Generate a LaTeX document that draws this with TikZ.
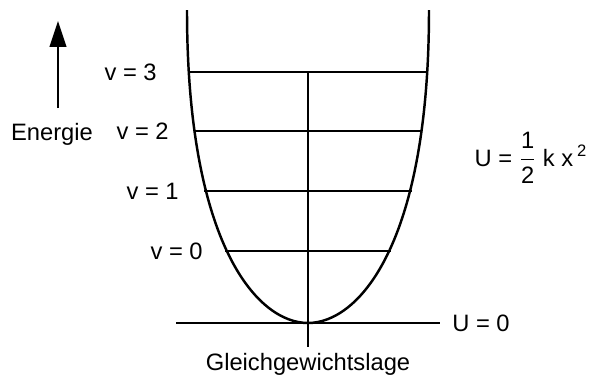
\documentclass[tikz,border=0pt]{standalone}
\usepackage{fontspec}
\setmainfont{Liberation Sans}
\usetikzlibrary{positioning, arrows.meta}
\definecolor{pInk}{HTML}{000000}
\tikzset{
  potline/.style={line width=1.4pt, pInk, line join=round},
  lvlline/.style={line width=1.4pt, pInk},
  lbl/.style={font=\fontsize{13.5}{16}\selectfont, inner sep=0pt, text=pInk},
}

\begin{document}
\begin{tikzpicture}[x=0.02cm, y=-0.02cm, >=Stealth]
      \useasboundingbox (0,0) rectangle (596,376);
      % potential curve
      \coordinate (pmin) at (308,323);
      \draw[potline] (187,10) .. controls (187,246) and (258,323) .. (pmin)
        .. controls (358,323) and (429,246) .. (429,10);
      % vibrational levels
      \foreach \y/\w/\n/\g in {72/120/3/0.62, 131/114/2/0.50, 191/104/1/0.50, 251/83/0/0.44} {
        \coordinate (l\n) at (308-\w,\y);
        \coordinate (r\n) at (308+\w,\y);
        \draw[lvlline] (l\n) -- (r\n);
        \node[lbl, left=\g cm of l\n] (v\n) {v = \n};
      }
      % axes
      \coordinate (axl) at (176,323);
      \coordinate (axr) at (440,323);
      \coordinate (eqb) at (308,347);
      \draw[lvlline] (axl) -- (axr);
      \draw[lvlline] (l3 -| eqb) -- (eqb);
      \node[lbl, right=0.24cm of axr] (u0) {U = 0};
      \node[lbl, below=0.12cm of eqb] (gl) {Gleichgewichtslage};
      % energy arrow
      \node[lbl] (en) at (52,134) {Energie};
      \coordinate (ebot) at (58,108);
      \coordinate (etop) at (58,21);
      \draw[lvlline, -{Triangle[width=0.33cm, length=0.52cm]}] (ebot) -- (etop);
      \node[lbl] (form) at (531,158) {U = $\displaystyle\frac{\mbox{1}}{\mbox{2}}$ k x\,\textsuperscript{2}};
    \end{tikzpicture}
\end{document}
